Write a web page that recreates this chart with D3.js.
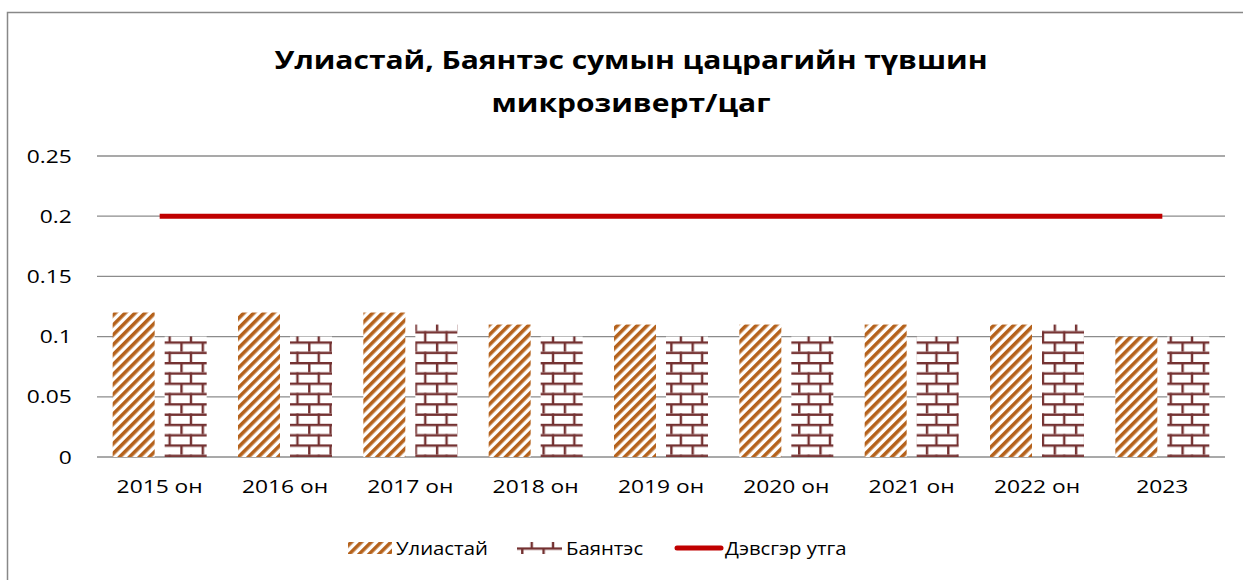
<!DOCTYPE html>
<html>
<head>
<meta charset="utf-8">
<script src="https://cdn.jsdelivr.net/npm/d3@7"></script>
<style>
  html, body { margin: 0; padding: 0; background: #fff; }
  svg { display: block; font-family: "Open Sans", "Noto Sans", sans-serif; }
</style>
</head>
<body>
<svg id="chart"></svg>
<script>
// Categories and series
const years = ["2015 он", "2016 он", "2017 он", "2018 он", "2019 он", "2020 он", "2021 он", "2022 он", "2023"];
const uliastai = [0.12, 0.12, 0.12, 0.11, 0.11, 0.11, 0.11, 0.11, 0.10];
const bayantes = [0.10, 0.10, 0.11, 0.10, 0.10, 0.10, 0.10, 0.11, 0.10];
const threshold = [0.2, 0.2, 0.2, 0.2, 0.2, 0.2, 0.2, 0.2, 0.2];
const yTicks = [0, 0.05, 0.1, 0.15, 0.2, 0.25];
const seriesNames = ["Улиастай", "Баянтэс", "Дэвсгэр утга"];
const titleLines = ["Улиастай, Баянтэс сумын цацрагийн түвшин", "микрозиверт/цаг"];

const W = 1243, H = 580;
const margin = { left: 97, right: 18, top: 156, bottom: 123 };
const innerW = W - margin.left - margin.right;
const innerH = H - margin.top - margin.bottom;
// the source chart is a bit stretched sideways, so text is widened to match
const stretch = 1.2;

const svg = d3.select("#chart").attr("width", W).attr("height", H);

// Patterns: diagonal stripes and bricks
const defs = svg.append("defs");
const stripe = defs.append("pattern")
  .attr("id", "stripes")
  .attr("patternUnits", "userSpaceOnUse")
  .attr("width", 7).attr("height", 7)
  .attr("patternTransform", "rotate(45)");
stripe.append("rect").attr("width", 7).attr("height", 7).attr("fill", "#fff");
stripe.append("rect").attr("x", 0).attr("width", 3.6).attr("height", 7).attr("fill", "#b5621c");

const bw = 21.3, bh = 10.3;
const brick = defs.append("pattern")
  .attr("id", "bricks")
  .attr("patternUnits", "userSpaceOnUse")
  .attr("width", bw).attr("height", bh * 2)
  .attr("x", 165 - 6).attr("y", margin.top);
brick.append("rect").attr("width", bw).attr("height", bh * 2).attr("fill", "#fff");
const mortar = "#743131";
brick.append("rect").attr("x", 0).attr("y", 0).attr("width", bw).attr("height", 2.4).attr("fill", mortar);
brick.append("rect").attr("x", 0).attr("y", bh).attr("width", bw).attr("height", 2.4).attr("fill", mortar);
brick.append("rect").attr("x", bw / 2 - 1.2).attr("y", bh).attr("width", 2.4).attr("height", bh).attr("fill", mortar);
brick.append("rect").attr("x", 0).attr("y", 0).attr("width", 2.4).attr("height", bh).attr("fill", mortar);

// Outer frame
svg.append("rect")
  .attr("x", 7.5).attr("y", 12.5)
  .attr("width", W + 20).attr("height", H + 20)
  .attr("fill", "none").attr("stroke", "#888").attr("stroke-width", 1.5);

// Title
svg.append("text")
  .attr("transform", `translate(631,0) scale(${stretch},1)`)
  .attr("text-anchor", "middle")
  .attr("font-size", 25).attr("font-weight", "bold").attr("fill", "#000")
  .selectAll("tspan").data(titleLines).join("tspan")
  .attr("x", 0)
  .attr("y", (d, i) => 69 + i * 43)
  .text(d => d);

const x = d3.scaleBand().domain(years).range([margin.left, margin.left + innerW]).paddingInner(0).paddingOuter(0);
const y = d3.scaleLinear().domain([0, 0.25]).range([margin.top + innerH, margin.top]);

// Gridlines
svg.append("g").selectAll("line").data(yTicks).join("line")
  .attr("x1", margin.left).attr("x2", margin.left + innerW)
  .attr("y1", d => y(d)).attr("y2", d => y(d))
  .attr("stroke", "#8c8c8c").attr("stroke-width", 1.3);

// Y axis labels
const yAxis = d3.axisLeft(y).tickValues(yTicks).tickSize(0).tickPadding(21)
  .tickFormat(d => String(+d.toFixed(2)));
const gy = svg.append("g").attr("transform", `translate(${margin.left},0)`).call(yAxis);
gy.select(".domain").remove();
gy.selectAll("text").attr("font-size", 19).attr("fill", "#000")
  .attr("font-family", "Open Sans, Noto Sans, sans-serif")
  .attr("transform", `scale(${stretch},1)`);

// X axis labels
const xAxis = d3.axisBottom(x).tickSize(0).tickPadding(23);
const gx = svg.append("g").attr("transform", `translate(0,${margin.top + innerH})`).call(xAxis);
gx.select(".domain").remove();
gx.selectAll("text").attr("font-size", 19).attr("fill", "#000")
  .attr("font-family", "Open Sans, Noto Sans, sans-serif")
  .attr("transform", `scale(${stretch},1)`);

// Bars
const barW = 42, gap = 10;
const series = [uliastai, bayantes];
const fills = ["url(#stripes)", "url(#bricks)"];
series.forEach((vals, si) => {
  svg.append("g").selectAll("rect").data(vals).join("rect")
    .attr("x", (d, i) => x(years[i]) + x.bandwidth() / 2 - (barW * 2 + gap) / 2 + si * (barW + gap))
    .attr("y", d => y(d))
    .attr("width", barW)
    .attr("height", d => y(0) - y(d))
    .attr("fill", fills[si]);
});

// Threshold line
const line = d3.line().x((d, i) => x(years[i]) + x.bandwidth() / 2).y(d => y(d));
svg.append("path").datum(threshold)
  .attr("d", line)
  .attr("fill", "none").attr("stroke", "#c00000").attr("stroke-width", 5);

// Legend
const ly = 548;
const leg = svg.append("g");
leg.append("rect").attr("x", 348).attr("y", ly - 6).attr("width", 44).attr("height", 12).attr("fill", "url(#stripes)");
leg.append("rect").attr("x", 517).attr("y", ly - 6).attr("width", 45).attr("height", 12).attr("fill", "url(#bricks)");
leg.append("line").attr("x1", 677).attr("x2", 721).attr("y1", ly).attr("y2", ly)
  .attr("stroke", "#c00000").attr("stroke-width", 5).attr("stroke-linecap", "round");
const legX = [396, 566, 725];
leg.selectAll("text").data(seriesNames).join("text")
  .attr("transform", (d, i) => `translate(${legX[i]},${ly}) scale(1.07,1)`)
  .attr("dy", "0.35em")
  .attr("font-size", 19).attr("fill", "#000")
  .text(d => d);
</script>
</body>
</html>
